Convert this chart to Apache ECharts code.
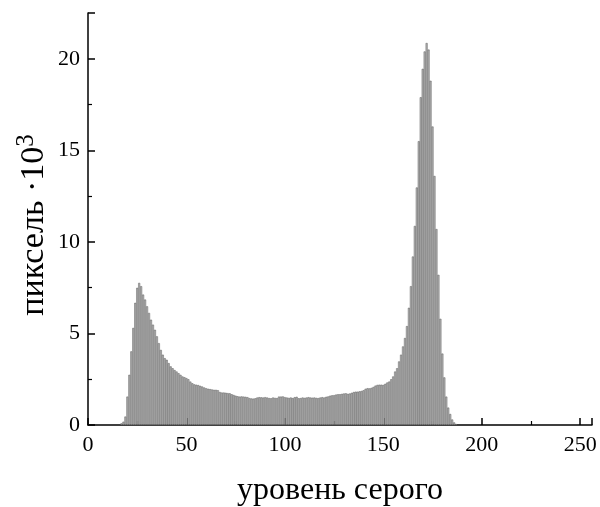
<!DOCTYPE html>
<html><head><meta charset="utf-8">
<script src="https://cdn.jsdelivr.net/npm/echarts@6/dist/echarts.min.js"></script>
<style>html,body{margin:0;padding:0;background:#fff}#c{width:600px;height:507px}</style>
</head><body><div id="c"></div>
<script>
// gray levels with non-zero counts start at 17
const startLevel = 17;
// pixel counts (thousands) for gray levels 17..187
const counts = [
  0.09, 0.18, 0.46, 1.55, 2.74, 4.02, 5.30, 6.67, 7.49, 7.76,      // 17-26
  7.58, 7.12, 6.85, 6.48, 6.12, 5.75, 5.48, 5.20, 4.84, 4.47,      // 27-36
  4.10, 3.84, 3.65, 3.56, 3.38, 3.20, 3.10, 3.00, 2.92, 2.83,      // 37-46
  2.74, 2.65, 2.61, 2.56, 2.50, 2.37, 2.28, 2.22, 2.20, 2.18,      // 47-56
  2.14, 2.10, 2.05, 2.01, 1.98, 1.96, 1.94, 1.92, 1.92, 1.90,      // 57-66
  1.80, 1.77, 1.77, 1.76, 1.74, 1.73, 1.68, 1.64, 1.60, 1.57,      // 67-76
  1.55, 1.56, 1.55, 1.54, 1.52, 1.47, 1.45, 1.44, 1.46, 1.50,      // 77-86
  1.52, 1.51, 1.50, 1.52, 1.50, 1.47, 1.46, 1.50, 1.48, 1.47,      // 87-96
  1.55, 1.55, 1.56, 1.52, 1.50, 1.48, 1.50, 1.47, 1.52, 1.54,      // 97-106
  1.46, 1.47, 1.50, 1.48, 1.50, 1.52, 1.50, 1.49, 1.50, 1.48,      // 107-116
  1.47, 1.50, 1.52, 1.50, 1.54, 1.56, 1.60, 1.62, 1.63, 1.66,      // 117-126
  1.68, 1.68, 1.70, 1.72, 1.73, 1.70, 1.72, 1.76, 1.80, 1.82,      // 127-136
  1.82, 1.84, 1.86, 1.90, 1.98, 2.01, 2.00, 2.03, 2.08, 2.15,      // 137-146
  2.19, 2.20, 2.20, 2.19, 2.25, 2.32, 2.37, 2.50, 2.65, 2.92,      // 147-156
  3.10, 3.47, 3.84, 4.29, 4.75, 5.40, 6.40, 7.58, 9.20, 10.87,     // 157-166
  12.97, 15.50, 17.90, 19.45, 20.40, 20.86, 20.50, 18.80, 16.30, 13.60, // 167-176
  10.70, 8.20, 5.80, 3.90, 2.60, 1.55, 0.95, 0.60, 0.30, 0.14,     // 177-186
  0.05                                                            // 187
];
const xTicks = [0, 50, 100, 150, 200, 250];
const yTicks = [0, 5, 10, 15, 20];

const data = counts.map((v, i) => [startLevel + i, v]);
const chart = echarts.init(document.getElementById('c'), null, {renderer: 'canvas'});
const font = '"Liberation Serif", "Times New Roman", serif';
chart.setOption({
  animation: false,
  backgroundColor: '#fff',
  grid: {left: 88, right: 8, top: 13, bottom: 82, containLabel: false, outerBoundsMode: 'none'},
  xAxis: {
    type: 'value', min: 0, max: 256, interval: 50,
    name: 'уровень серого', nameLocation: 'middle', nameGap: 50, nameMoveOverlap: false,
    nameTextStyle: {fontFamily: font, fontSize: 32, color: '#000'},
    axisLine: {show: true, onZero: false, lineStyle: {color: '#000', width: 1.5}},
    axisTick: {show: true, inside: true, length: 7, lineStyle: {color: '#000', width: 1.5}},
    minorTick: {show: true, splitNumber: 2, length: 4, lineStyle: {color: '#000', width: 1.2}},
    axisLabel: {fontFamily: font, fontSize: 22, color: '#000', margin: 9,
      formatter: v => xTicks.includes(v) ? String(v) : ''},
    splitLine: {show: false}
  },
  yAxis: {
    type: 'value', min: 0, max: 22.5, interval: 5,
    name: '{a|пиксель ·10}{s|3}', nameLocation: 'middle', nameGap: 33, nameRotate: 90, nameMoveOverlap: false,
    nameTextStyle: {fontFamily: font, fontSize: 34, color: '#000',
      rich: {a: {fontFamily: font, fontSize: 34, color: '#000'},
             s: {fontFamily: font, fontSize: 25, color: '#000', verticalAlign: 'top', padding: [0, 12, 16, 0]}}},
    axisLine: {show: true, lineStyle: {color: '#000', width: 1.5}},
    axisTick: {show: true, inside: true, length: 7, lineStyle: {color: '#000', width: 1.5}},
    minorTick: {show: true, splitNumber: 2, length: 4, lineStyle: {color: '#000', width: 1.2}},
    axisLabel: {fontFamily: font, fontSize: 22, color: '#000', margin: 8,
      formatter: v => yTicks.includes(v) ? String(v) : ''},
    splitLine: {show: false}
  },
  series: [{
    type: 'bar', data: data, barWidth: 1.97,
    itemStyle: {color: '#b4b4b4', borderColor: '#5e5e5e', borderWidth: 0.5},
    emphasis: {disabled: true}
  }]
});
</script></body></html>
